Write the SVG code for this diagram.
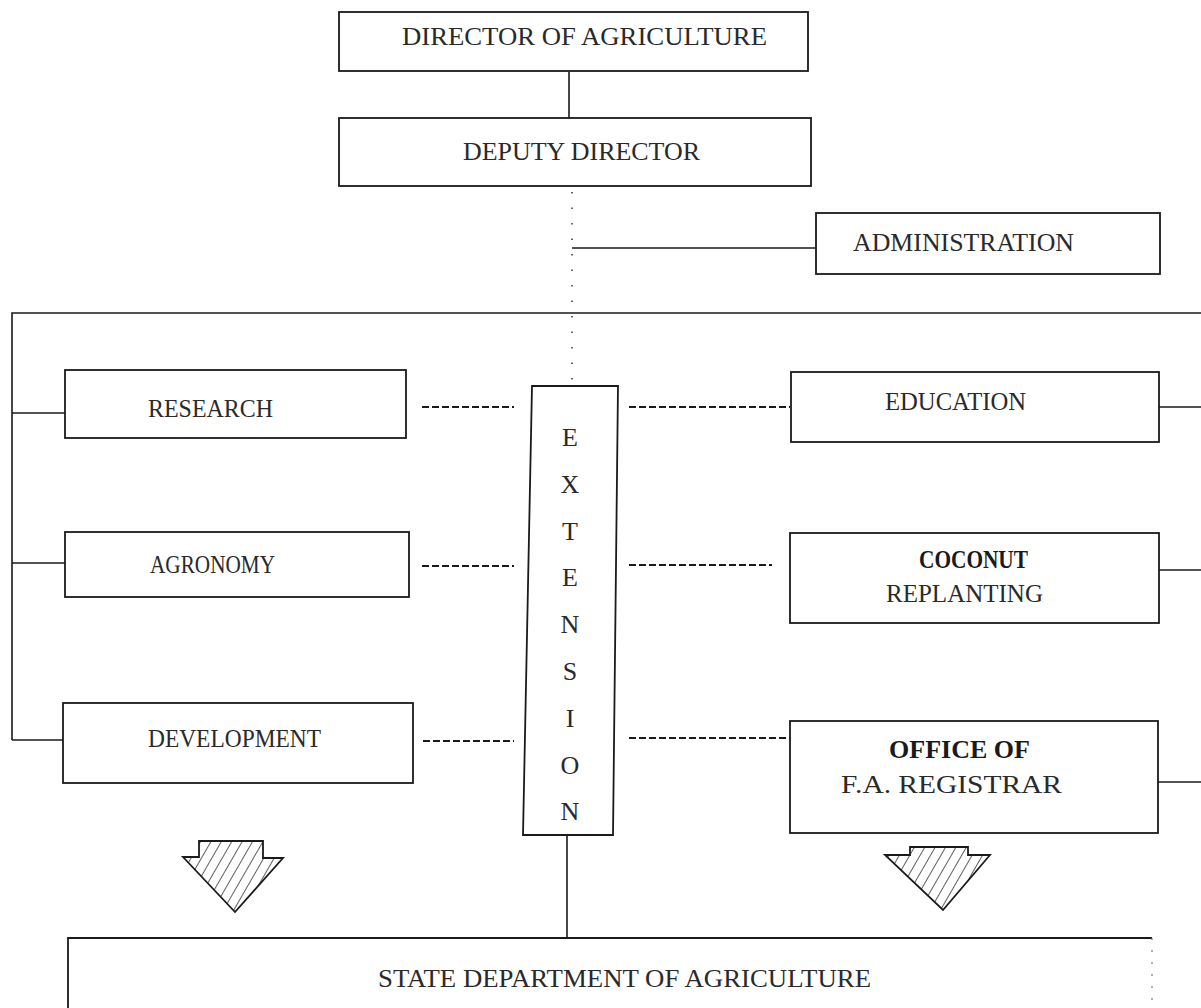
<svg xmlns="http://www.w3.org/2000/svg" width="1201" height="1008" viewBox="0 0 1201 1008">
<style>
.box{fill:none;stroke:#1a1a1a;stroke-width:1.8}
.ln{fill:none;stroke:#1a1a1a;stroke-width:1.6}
.dash{fill:none;stroke:#1a1a1a;stroke-width:2;stroke-dasharray:7 3}
.dot{fill:none;stroke:#444;stroke-width:1.6;stroke-dasharray:1.5 14}
.t{font-family:"Liberation Serif","Times New Roman",serif;font-size:26px;fill:#2a2a2a}
.c{text-anchor:middle}
.b{font-weight:bold;fill:#1a1a1a}
.arr{fill:url(#hatch);stroke:#1a1a1a;stroke-width:1.8}
</style>
<defs>
<pattern id="hatch" patternUnits="userSpaceOnUse" width="9" height="9" patternTransform="rotate(30)">
<line x1="0" y1="0" x2="0" y2="9" stroke="#1a1a1a" stroke-width="1.4"/>
</pattern>
</defs>
<rect width="1201" height="1008" fill="#ffffff"/>
<g id="connectors">
<line class="ln" x1="569" y1="72" x2="569" y2="118"/>
<line class="dot" x1="572" y1="192" x2="572" y2="386"/>
<line class="ln" x1="572" y1="248" x2="816" y2="248"/>
<path class="ln" d="M1201 313 L12 313 L12 740"/>
<line class="ln" x1="12" y1="413" x2="65" y2="413"/>
<line class="ln" x1="12" y1="563" x2="65" y2="563"/>
<line class="ln" x1="12" y1="740" x2="63" y2="740"/>
<line class="dash" x1="422" y1="407" x2="514" y2="407"/>
<line class="dash" x1="422" y1="566" x2="514" y2="566"/>
<line class="dash" x1="423" y1="741" x2="514" y2="741"/>
<line class="dash" x1="629" y1="407" x2="790" y2="407"/>
<line class="dash" x1="629" y1="565" x2="772" y2="565"/>
<line class="dash" x1="629" y1="738" x2="790" y2="738"/>
<line class="ln" x1="1159" y1="407" x2="1201" y2="407"/>
<line class="ln" x1="1159" y1="570" x2="1201" y2="570"/>
<line class="ln" x1="1158" y1="782" x2="1201" y2="782"/>
<line class="ln" x1="567" y1="835" x2="567" y2="938"/>
</g>
<g id="director">
<rect class="box" x="339" y="12" width="469" height="59"/>
<text class="t" x="402" y="45" textLength="365" lengthAdjust="spacingAndGlyphs">DIRECTOR OF AGRICULTURE</text>
</g>
<g id="deputy">
<rect class="box" x="339" y="118" width="472" height="68"/>
<text class="t" x="463" y="160" textLength="237" lengthAdjust="spacingAndGlyphs">DEPUTY DIRECTOR</text>
</g>
<g id="administration">
<rect class="box" x="816" y="213" width="344" height="61"/>
<text class="t" x="853" y="251" textLength="221" lengthAdjust="spacingAndGlyphs">ADMINISTRATION</text>
</g>
<g id="research">
<rect class="box" x="65" y="370" width="341" height="68"/>
<text class="t" x="148" y="417" textLength="125" lengthAdjust="spacingAndGlyphs">RESEARCH</text>
</g>
<g id="agronomy">
<rect class="box" x="65" y="532" width="344" height="65"/>
<text class="t" x="150" y="573" textLength="125" lengthAdjust="spacingAndGlyphs">AGRONOMY</text>
</g>
<g id="development">
<rect class="box" x="63" y="703" width="350" height="80"/>
<text class="t" x="148" y="747" textLength="173" lengthAdjust="spacingAndGlyphs">DEVELOPMENT</text>
</g>
<g id="extension">
<path class="box" d="M532 386 L618 386 L613 835 L523 835 Z"/>
<text class="t c" x="570" y="446">E</text>
<text class="t c" x="570" y="493">X</text>
<text class="t c" x="570" y="540">T</text>
<text class="t c" x="570" y="586">E</text>
<text class="t c" x="570" y="633">N</text>
<text class="t c" x="570" y="680">S</text>
<text class="t c" x="570" y="727">I</text>
<text class="t c" x="570" y="774">O</text>
<text class="t c" x="570" y="820">N</text>
</g>
<g id="education">
<rect class="box" x="791" y="372" width="368" height="70"/>
<text class="t" x="885" y="410" textLength="141" lengthAdjust="spacingAndGlyphs">EDUCATION</text>
</g>
<g id="coconut">
<rect class="box" x="790" y="533" width="369" height="90"/>
<text class="t b" x="919" y="568" textLength="109" lengthAdjust="spacingAndGlyphs">COCONUT</text>
<text class="t" x="886" y="602" textLength="157" lengthAdjust="spacingAndGlyphs">REPLANTING</text>
</g>
<g id="registrar">
<rect class="box" x="790" y="721" width="368" height="112"/>
<text class="t b" x="889" y="758" textLength="141" lengthAdjust="spacingAndGlyphs">OFFICE OF</text>
<text class="t" x="841" y="793" textLength="221" lengthAdjust="spacingAndGlyphs">F.A. REGISTRAR</text>
</g>
<g id="arrow-left">
<polygon class="arr" points="199,841 263,841 263,858 283,858 235,912 183,857 199,857"/>
</g>
<g id="arrow-right">
<polygon class="arr" points="910,847 968,847 968,855 990,855 943,910 885,855 910,855"/>
</g>
<g id="state">
<path class="box" d="M68 1008 L68 938 L1152 938"/>
<line x1="1152" y1="938" x2="1152" y2="1008" stroke="#777" stroke-width="1.2" stroke-dasharray="2 10"/>
<text class="t" x="378" y="987" textLength="493" lengthAdjust="spacingAndGlyphs">STATE DEPARTMENT OF AGRICULTURE</text>
</g>
</svg>
